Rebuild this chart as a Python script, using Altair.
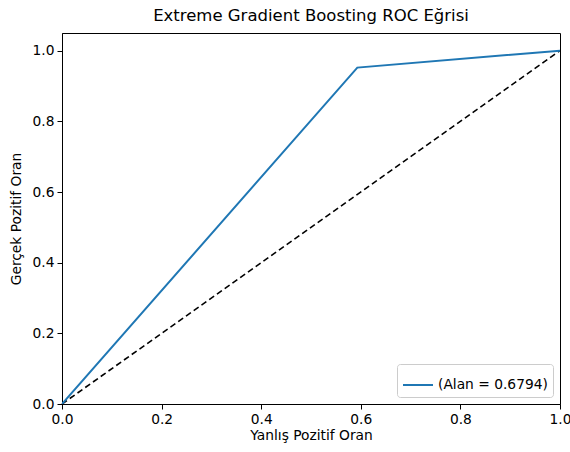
import altair as alt
import pandas as pd

fpr = [0.0, 0.593, 1.0]
tpr = [0.0, 0.952, 1.0]
diag_x = [0.0, 1.0]
diag_y = [0.0, 1.0]
label = "(Alan = 0.6794)"
title = "Extreme Gradient Boosting ROC Eğrisi"
ticks = [0.0, 0.2, 0.4, 0.6, 0.8, 1.0]

roc = pd.DataFrame({"fpr": fpr, "tpr": tpr, "series": [label] * len(fpr)})
diag = pd.DataFrame({"fpr": diag_x, "tpr": diag_y})

F = "DejaVu Sans"
FS = 13.8
xs = alt.Scale(domain=[0, 1], nice=False, zero=False)
ys = alt.Scale(domain=[0, 1.05], nice=False, zero=False)
common = dict(grid=False, labelFont=F, titleFont=F, labelFontSize=FS,
              titleFontSize=FS, titleFontWeight="normal", labelColor="black",
              titleColor="black", domainColor="black", tickColor="black",
              tickSize=5, labelPadding=3, labelFlush=False)
xax = alt.Axis(values=ticks, format=".1f", title="Yanlış Pozitif Oran",
               titlePadding=3, **common)
yax = alt.Axis(values=ticks, format=".1f", title="Gerçek Pozitif Oran",
               titlePadding=9, **common)

line = alt.Chart(roc).mark_line(strokeWidth=2, clip=True).encode(
    x=alt.X("fpr:Q", scale=xs, axis=xax),
    y=alt.Y("tpr:Q", scale=ys, axis=yax),
    color=alt.Color("series:N", scale=alt.Scale(range=["#1f77b4"]),
                    legend=alt.Legend(title=None, orient="bottom-right",
                                      symbolType="stroke", symbolStrokeWidth=2,
                                      symbolSize=900, fillColor="white",
                                      strokeColor="#cccccc", padding=5,
                                      cornerRadius=3, labelFontSize=FS,
                                      labelFont=F, labelColor="black",
                                      offset=7)),
)
dash = alt.Chart(diag).mark_line(color="black", strokeWidth=1.6,
                                 strokeDash=[6, 3.5]).encode(
    x=alt.X("fpr:Q", scale=xs),
    y=alt.Y("tpr:Q", scale=ys),
)

chart = alt.layer(dash, line).properties(
    width=498, height=371,
    background="white",
    title=alt.TitleParams(title, font=F, fontSize=16.5, fontWeight="normal",
                          anchor="middle", offset=9, color="black"),
    autosize=alt.AutoSizeParams(type="none"),
    padding={"left": 62, "top": 33, "right": 10, "bottom": 48},
).configure_view(stroke="black", strokeWidth=1)

chart.save("out.html", embed_options={"renderer": "svg", "actions": False})
